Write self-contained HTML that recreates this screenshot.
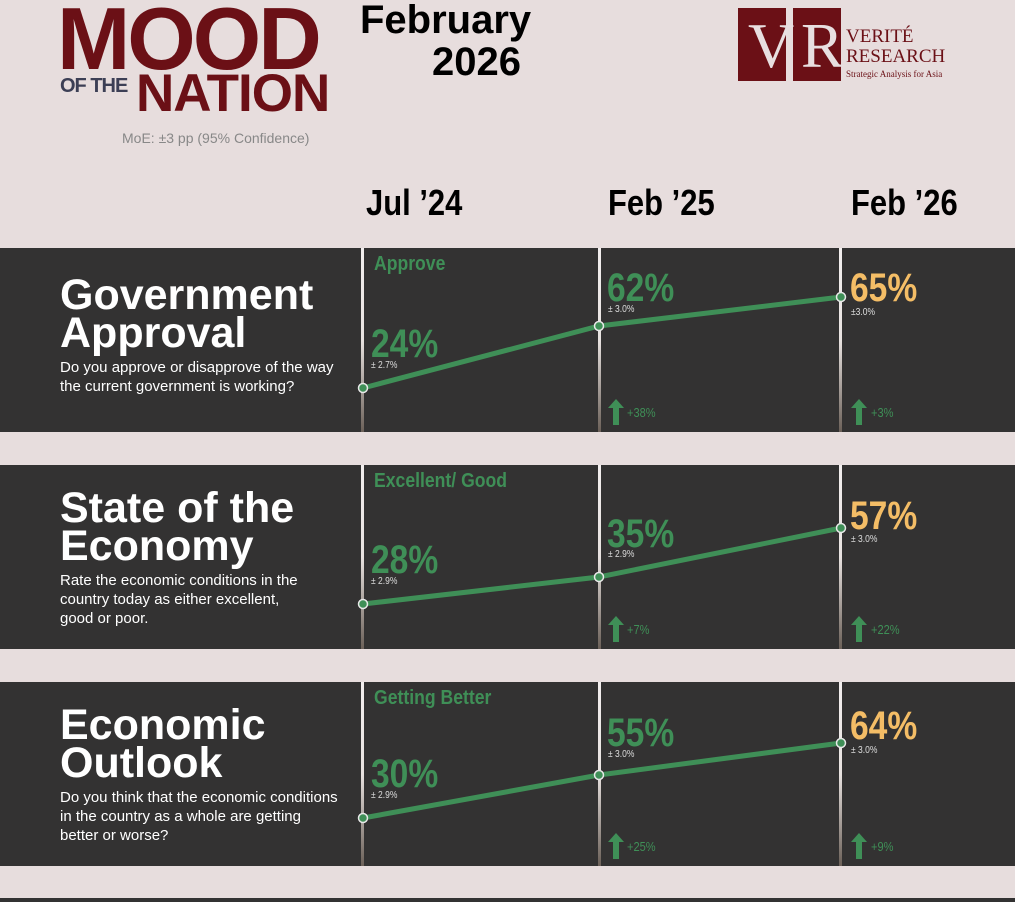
<!DOCTYPE html>
<html><head><meta charset="utf-8"><style>
html,body{margin:0;width:1015px;height:902px;overflow:hidden}
body{background:#e7dddd;font-family:"Liberation Sans",sans-serif;position:relative}
.a{position:absolute;white-space:nowrap}
.c{transform-origin:0 0}
.panel{position:absolute;left:0;width:1015px;height:184px;background:#333232}
.div{position:absolute;width:3px;height:184px;background:linear-gradient(#f2eeee 0%,#e8e2e0 50%,#6b6058 100%)}
.t{font-weight:bold;color:#fff;font-size:43px;line-height:38px;left:60px}
.q{color:#fff;font-size:15px;line-height:19px;left:60px}
.g{color:#3f8f57;font-weight:bold;font-size:40px;transform:scaleX(.84);transform-origin:0 0}
.y{color:#f4bd66;font-weight:bold;font-size:40px;transform:scaleX(.84);transform-origin:0 0}
.s{color:#ddd;font-size:10px;transform:scaleX(.85);transform-origin:0 0}
.lab{color:#3f8f57;font-weight:bold;font-size:20px;transform:scaleX(.88);transform-origin:0 0}
.ch{color:#3f8f57;font-size:13px;transform:scaleX(.85);transform-origin:0 0}
.hd{font-weight:bold;font-size:36px;color:#000;transform:scaleX(.86);transform-origin:0 0}
</style></head><body>
<div class="a c" style="left:57px;top:-5px;font-size:88px;font-weight:bold;color:#6b1016;letter-spacing:-3px;line-height:88px">MOOD</div>
<div class="a" style="left:60px;top:75px;font-size:20px;font-weight:bold;color:#3c3f55;letter-spacing:-1px">OF THE</div>
<div class="a" style="left:136px;top:67px;font-size:53px;font-weight:bold;color:#6b1016;letter-spacing:-1px;line-height:53px">NATION</div>
<div class="a" style="left:122px;top:130px;font-size:14px;color:#888">MoE: ±3 pp (95% Confidence)</div>
<div class="a" style="left:360px;top:-2px;font-size:40px;font-weight:bold;line-height:44px">February</div>
<div class="a" style="left:432px;top:40px;font-size:40px;font-weight:bold;line-height:44px">2026</div>
<div class="a" style="left:738px;top:8px;width:48px;height:73px;background:#6b1016"></div>
<div class="a" style="left:793px;top:8px;width:48px;height:73px;background:#6b1016"></div>
<div class="a" style="left:748px;top:14px;font-family:'Liberation Serif',serif;font-size:64px;color:#e8dfe0;line-height:64px">V</div>
<div class="a" style="left:801px;top:14px;font-family:'Liberation Serif',serif;font-size:64px;color:#e8dfe0;line-height:64px">R</div>
<div class="a" style="left:846px;top:26px;font-family:'Liberation Serif',serif;font-size:19px;color:#6b1016">VERITÉ</div>
<div class="a" style="left:846px;top:46px;font-family:'Liberation Serif',serif;font-size:19px;color:#6b1016">RESEARCH</div>
<div class="a" style="left:846px;top:69px;font-family:'Liberation Serif',serif;font-size:9px;color:#6b1016">Strategic Analysis for Asia</div>
<div class="a hd" style="left:366px;top:182px">Jul ’24</div>
<div class="a hd" style="left:608px;top:182px">Feb ’25</div>
<div class="a hd" style="left:851px;top:182px">Feb ’26</div>

<div class="panel" style="top:248px"></div>
<div class="panel" style="top:465px"></div>
<div class="panel" style="top:682px"></div>
<div class="panel" style="top:898px;height:4px"></div>
<div class="div" style="left:361px;top:248px"></div><div class="div" style="left:598px;top:248px"></div><div class="div" style="left:839px;top:248px"></div>
<div class="div" style="left:361px;top:465px"></div><div class="div" style="left:598px;top:465px"></div><div class="div" style="left:839px;top:465px"></div>
<div class="div" style="left:361px;top:682px"></div><div class="div" style="left:598px;top:682px"></div><div class="div" style="left:839px;top:682px"></div>

<svg class="a" style="left:0;top:0" width="1015" height="902">
<g fill="none" stroke="#3f8f57" stroke-width="5">
<polyline points="363,388 599,326 841,297"/>
<polyline points="363,604 599,577 841,528"/>
<polyline points="363,818 599,775 841,743"/>
</g>
<g fill="#3f8f57" stroke="#e8e8e8" stroke-width="1.5">
<circle cx="363" cy="388" r="4.5"/><circle cx="599" cy="326" r="4.5"/><circle cx="841" cy="297" r="4.5"/>
<circle cx="363" cy="604" r="4.5"/><circle cx="599" cy="577" r="4.5"/><circle cx="841" cy="528" r="4.5"/>
<circle cx="363" cy="818" r="4.5"/><circle cx="599" cy="775" r="4.5"/><circle cx="841" cy="743" r="4.5"/>
</g>
<g fill="#3f8f57">
<path d="M616,399 l8,9 h-5 v17 h-6 v-17 h-5z"/><path d="M859,399 l8,9 h-5 v17 h-6 v-17 h-5z"/>
<path d="M616,616 l8,9 h-5 v17 h-6 v-17 h-5z"/><path d="M859,616 l8,9 h-5 v17 h-6 v-17 h-5z"/>
<path d="M616,833 l8,9 h-5 v17 h-6 v-17 h-5z"/><path d="M859,833 l8,9 h-5 v17 h-6 v-17 h-5z"/>
</g>
</svg>

<div class="a t" style="top:276px">Government<br>Approval</div>
<div class="a q" style="top:358px">Do you approve or disapprove of the way<br>the current government is working?</div>
<div class="a t" style="top:489px">State of the<br>Economy</div>
<div class="a q" style="top:571px">Rate the economic conditions in the<br>country today as either excellent,<br>good or poor.</div>
<div class="a t" style="top:706px">Economic<br>Outlook</div>
<div class="a q" style="top:788px">Do you think that the economic conditions<br>in the country as a whole are getting<br>better or worse?</div>

<div class="a lab" style="left:374px;top:253px">Approve</div>
<div class="a g" style="left:371px;top:322px">24%</div><div class="a s" style="left:371px;top:360px">± 2.7%</div>
<div class="a g" style="left:607px;top:266px">62%</div><div class="a s" style="left:608px;top:304px">± 3.0%</div>
<div class="a y" style="left:850px;top:266px">65%</div><div class="a s" style="left:851px;top:307px">±3.0%</div>
<div class="a ch" style="left:627px;top:405px">+38%</div><div class="a ch" style="left:871px;top:405px">+3%</div>

<div class="a lab" style="left:374px;top:470px">Excellent/ Good</div>
<div class="a g" style="left:371px;top:538px">28%</div><div class="a s" style="left:371px;top:576px">± 2.9%</div>
<div class="a g" style="left:607px;top:512px">35%</div><div class="a s" style="left:608px;top:549px">± 2.9%</div>
<div class="a y" style="left:850px;top:494px">57%</div><div class="a s" style="left:851px;top:534px">± 3.0%</div>
<div class="a ch" style="left:627px;top:622px">+7%</div><div class="a ch" style="left:871px;top:622px">+22%</div>

<div class="a lab" style="left:374px;top:687px">Getting Better</div>
<div class="a g" style="left:371px;top:752px">30%</div><div class="a s" style="left:371px;top:790px">± 2.9%</div>
<div class="a g" style="left:607px;top:711px">55%</div><div class="a s" style="left:608px;top:749px">± 3.0%</div>
<div class="a y" style="left:850px;top:704px">64%</div><div class="a s" style="left:851px;top:745px">± 3.0%</div>
<div class="a ch" style="left:627px;top:839px">+25%</div><div class="a ch" style="left:871px;top:839px">+9%</div>
</body></html>
